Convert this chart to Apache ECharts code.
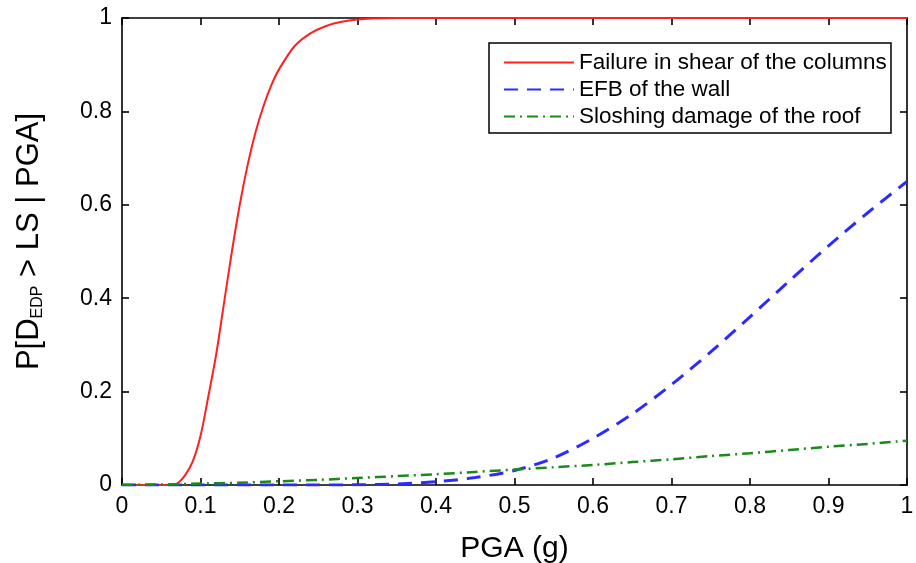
<!DOCTYPE html>
<html>
<head>
<meta charset="utf-8">
<script src="https://cdn.jsdelivr.net/npm/echarts@6/dist/echarts.min.js"></script>
<style>
  html, body { margin: 0; padding: 0; background: #fff; }
  #chart { width: 916px; height: 563px; }
</style>
</head>
<body>
<div id="chart"></div>
<script>
// Fragility curves: probability of exceeding each limit state vs PGA
const seriesNames = [
  'Failure in shear of the columns',
  'EFB of the wall',
  'Sloshing damage of the roof'
];

const shearPga = [0, 0.05, 0.06, 0.07, 0.08, 0.09, 0.10, 0.11, 0.12, 0.13, 0.14, 0.15, 0.16, 0.17, 0.18, 0.19, 0.20, 0.22, 0.24, 0.26, 0.28, 0.30, 0.32, 0.35, 0.40, 0.50, 0.60, 0.70, 0.80, 0.90, 1.00];
const shearProb = [0, 0, 0.0005, 0.003, 0.02, 0.05, 0.105, 0.19, 0.28, 0.39, 0.50, 0.60, 0.685, 0.755, 0.81, 0.855, 0.89, 0.94, 0.967, 0.983, 0.992, 0.997, 0.999, 1, 1, 1, 1, 1, 1, 1, 1];

const wallPga = [0, 0.25, 0.30, 0.35, 0.40, 0.45, 0.50, 0.55, 0.60, 0.65, 0.70, 0.75, 0.80, 0.85, 0.90, 0.95, 1.00];
const wallProb = [0, 0, 0.0005, 0.002, 0.007, 0.016, 0.031, 0.058, 0.10, 0.152, 0.215, 0.285, 0.36, 0.437, 0.512, 0.583, 0.65];

const roofPga = [0, 0.05, 0.10, 0.15, 0.20, 0.25, 0.30, 0.35, 0.40, 0.45, 0.50, 0.55, 0.60, 0.65, 0.70, 0.75, 0.80, 0.85, 0.90, 0.95, 1.00];
const roofProb = [0, 0.001, 0.003, 0.005, 0.008, 0.011, 0.015, 0.019, 0.023, 0.028, 0.033, 0.038, 0.043, 0.049, 0.055, 0.062, 0.068, 0.075, 0.082, 0.088, 0.095];

const xTicks = { min: 0, max: 1, interval: 0.1 };
const yTicks = { min: 0, max: 1, interval: 0.2 };

const pairs = (xs, ys) => xs.map((x, i) => [x, ys[i]]);

const FONT = 'Liberation Sans, Arial, Helvetica, sans-serif';

const axisCommon = {
  axisLine: { show: true, onZero: false, lineStyle: { color: '#000', width: 1.6 } },
  axisTick: { show: true, inside: true, length: 7, lineStyle: { color: '#000', width: 1.6 } },
  splitLine: { show: false }
};

const chart = echarts.init(document.getElementById('chart'), null, { renderer: 'canvas' });

chart.setOption({
  animation: false,
  backgroundColor: '#fff',
  textStyle: { fontFamily: FONT, color: '#000' },
  grid: { left: 122, right: 9, top: 18, bottom: 78, containLabel: false, outerBoundsMode: 'none' },
  xAxis: [
    Object.assign({
      type: 'value', position: 'bottom',
      min: xTicks.min, max: xTicks.max, interval: xTicks.interval,
      name: 'PGA (g)', nameLocation: 'middle', nameGap: 49,
      nameTextStyle: { fontSize: 30, color: '#000', fontFamily: FONT },
      axisLabel: { fontSize: 23, color: '#000', margin: 10, fontFamily: FONT }
    }, axisCommon),
    Object.assign({
      type: 'value', position: 'top',
      min: xTicks.min, max: xTicks.max, interval: xTicks.interval,
      axisLabel: { show: false }
    }, axisCommon)
  ],
  yAxis: [
    Object.assign({
      type: 'value', position: 'left',
      min: yTicks.min, max: yTicks.max, interval: yTicks.interval,
      name: 'P[D{sub|EDP} > LS | PGA]', nameLocation: 'middle', nameGap: 76,
      nameTextStyle: {
        fontSize: 31, color: '#000', fontFamily: FONT,
        padding: [0, 0, 0, 20],
        rich: {
          sub: { fontSize: 16, fontFamily: FONT, color: '#000', verticalAlign: 'bottom', padding: [18, 0, 0, 0] }
        }
      },
      axisLabel: { fontSize: 23, color: '#000', margin: 10, fontFamily: FONT }
    }, axisCommon),
    Object.assign({
      type: 'value', position: 'right',
      min: yTicks.min, max: yTicks.max, interval: yTicks.interval,
      axisLabel: { show: false }
    }, axisCommon)
  ],
  legend: {
    orient: 'vertical',
    left: 498, top: 46,
    itemWidth: 70, itemHeight: 20, itemGap: 4,
    z: 20,
    itemStyle: { opacity: 0, borderWidth: 0 },
    textStyle: { fontSize: 22.5, color: '#000', fontFamily: FONT },
    data: seriesNames
  },
  graphic: [{
    type: 'rect', z: 10,
    shape: { x: 489, y: 43, width: 402, height: 90 },
    style: { fill: '#fff', stroke: '#000', lineWidth: 1.5 }
  }],
  series: [
    {
      name: seriesNames[0], type: 'line', data: pairs(shearPga, shearProb),
      smooth: 0.3, symbol: 'none',
      lineStyle: { color: '#ff2020', width: 2 }, itemStyle: { color: '#ff2020' }
    },
    {
      name: seriesNames[1], type: 'line', data: pairs(wallPga, wallProb),
      smooth: 0.3, symbol: 'none',
      lineStyle: { color: '#2b2bff', width: 3, type: [14, 9] }, itemStyle: { color: '#2b2bff' }
    },
    {
      name: seriesNames[2], type: 'line', data: pairs(roofPga, roofProb),
      smooth: 0.3, symbol: 'none',
      lineStyle: { color: '#1a8a1a', width: 2.5, type: [11, 5, 2, 5] }, itemStyle: { color: '#1a8a1a' }
    }
  ]
});
</script>
</body>
</html>
